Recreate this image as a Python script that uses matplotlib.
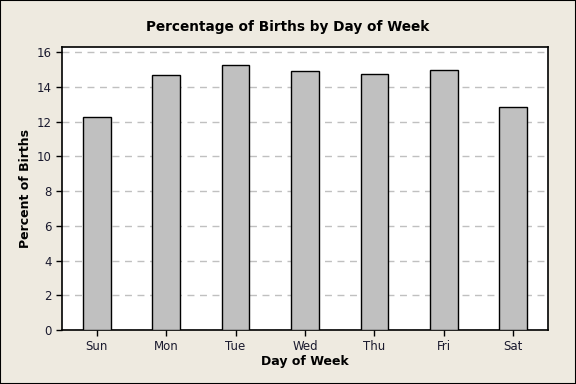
import matplotlib
matplotlib.use("Agg")
import matplotlib.pyplot as plt
from matplotlib.patches import Rectangle
import numpy as np

# births by weekday (percent)
days = ['Sun', 'Mon', 'Tue', 'Wed', 'Thu', 'Fri', 'Sat']
percent = [12.26, 14.66, 15.29, 14.89, 14.77, 15.00, 12.87]
y_ticks = [0, 2, 4, 6, 8, 10, 12, 14, 16]

plt.rcParams['font.family'] = 'DejaVu Sans'

fig = plt.figure(figsize=(5.76, 3.84), dpi=100, facecolor='#EEEAE0')
ax = fig.add_axes([62 / 576, 1 - 330 / 384, 486 / 576, 283 / 384])
ax.set_facecolor('white')

x = np.arange(len(days))
ax.bar(x, percent, width=0.4, color='#C0C0C0', edgecolor='black', linewidth=1, zorder=3)

ax.set_xlim(-0.5, 6.5)
ax.set_ylim(0, 16.3)
ax.set_yticks(y_ticks)
ax.set_xticks(x)
ax.set_xticklabels(days)
ax.yaxis.grid(True, linestyle=(0, (5, 4)), color='#C0C0C0', linewidth=1, zorder=0)
ax.tick_params(direction='out', length=4, width=1, labelsize=8.5,
               labelcolor='#1a1a2e', top=False, right=False)

for s in ax.spines.values():
    s.set_linewidth(1.2)

# title is centred on the whole figure, not on the axes
fig.text(0.5, 1 - 27 / 384, "Percentage of Births by Day of Week",
         fontweight="bold", fontsize=9.8, ha='center', va='center')
ax.set_xlabel("Day of Week", fontweight="bold", fontsize=9, labelpad=1)
ax.set_ylabel("Percent of Births", fontweight="bold", fontsize=9, labelpad=3)

# outer border
fig.patches.append(Rectangle((0, 0), 1, 1, transform=fig.transFigure,
                             fill=False, edgecolor='black', linewidth=1.5))

fig.savefig("out.png", dpi=100, facecolor=fig.get_facecolor())
